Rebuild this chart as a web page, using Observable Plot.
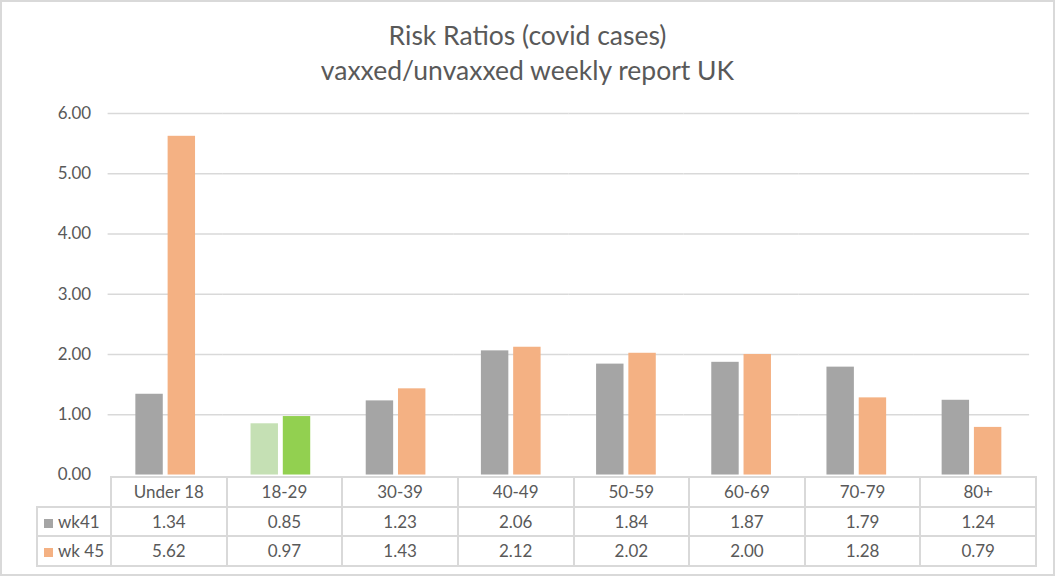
<!DOCTYPE html>
<html>
<head>
<meta charset="utf-8">
<script src="https://cdn.jsdelivr.net/npm/d3@7"></script>
<script src="https://cdn.jsdelivr.net/npm/@observablehq/plot@0.6"></script>
<style>
  html, body { margin: 0; padding: 0; background: #fff; }
  #frame { position: absolute; left: 0; top: 0; width: 1055px; height: 576px; box-sizing: border-box;
           border: 2px solid #d9d9d9; background: #fff; overflow: hidden; font-family: Lato, "Open Sans", sans-serif; color: #595959; }
  #title { position: absolute; left: -2px; top: 16px; width: 1055px; text-align: center; font-size: 26.5px; line-height: 35px; color: #595959; }
  #chart { position: absolute; left: -2px; top: 84px; }
  #tbl { position: absolute; left: 34px; top: 474px; border-collapse: collapse; table-layout: fixed; font-size: 17px; color: #595959; }
  #tbl td { border: 2px solid #d9d9d9; height: 27.5px; padding: 0; text-align: center; }
  #tbl td.blank { border-top: none; border-left: none; }
  #tbl td.leg { text-align: left; padding-left: 6px; }
  .sw { display: inline-block; width: 9px; height: 9px; margin-right: 5px; vertical-align: 0px; }
</style>
</head>
<body>
<div id="frame">
  <div id="title">Risk Ratios (covid cases)<br>vaxxed/unvaxxed weekly report UK</div>
  <div id="chart"></div>
  <table id="tbl"></table>
</div>
<script>
const categories = ["Under 18", "18-29", "30-39", "40-49", "50-59", "60-69", "70-79", "80+"];
const seriesNames = ["wk41", "wk 45"];
const wk41 = [1.34, 0.85, 1.23, 2.06, 1.84, 1.87, 1.79, 1.24];
const wk45 = [5.62, 0.97, 1.43, 2.12, 2.02, 2.00, 1.28, 0.79];
const yTicks = [0, 1, 2, 3, 4, 5, 6];
const seriesColors = ["#a5a5a5", "#f4b183"];
const highlightCategory = "18-29";
const highlightColors = ["#c5e0b4", "#92d050"];

const rows = [];
categories.forEach((c, i) => {
  rows.push({cat: c, series: seriesNames[0], value: wk41[i], si: 0});
  rows.push({cat: c, series: seriesNames[1], value: wk45[i], si: 1});
});

const chart = Plot.plot({
  width: 1057,
  height: 402,
  marginTop: 27,
  marginBottom: 12,
  marginLeft: 108,
  marginRight: 24,
  style: {fontFamily: "Lato, 'Open Sans', sans-serif", fontSize: "17px", color: "#595959", background: "transparent"},
  fx: {domain: categories, padding: 0, round: false, axis: null},
  x: {domain: seriesNames, paddingInner: 0.15, paddingOuter: 0.86, round: false, axis: null},
  y: {domain: [0, 6], ticks: yTicks, axis: null},
  color: {type: "identity"},
  marks: [
    Plot.ruleY(yTicks.slice(1), {stroke: "#d9d9d9", strokeWidth: 1.5}),
    Plot.barY(rows, {
      fx: "cat", x: "series", y: "value",
      fill: d => d.cat === highlightCategory ? highlightColors[d.si] : seriesColors[d.si]
    }),
    Plot.axisY({ticks: yTicks, tickFormat: d3.format(".2f"), tickSize: 0, tickPadding: 17, label: null,
                facetAnchor: "left", fill: "#595959"})
  ]
});
document.getElementById("chart").appendChild(chart);

// data table
const tbl = document.getElementById("tbl");
const colg = document.createElement("colgroup");
const firstW = 74;
const colW = (1033 - 108) / categories.length;
colg.innerHTML = `<col style="width:${firstW}px">` + categories.map(() => `<col style="width:${colW}px">`).join("");
tbl.appendChild(colg);
tbl.style.width = (firstW + colW * categories.length) + "px";
const head = document.createElement("tr");
head.innerHTML = `<td class="blank"></td>` + categories.map(c => `<td>${c}</td>`).join("");
tbl.appendChild(head);
[wk41, wk45].forEach((vals, si) => {
  const tr = document.createElement("tr");
  tr.innerHTML = `<td class="leg"><span class="sw" style="background:${seriesColors[si]}"></span>${seriesNames[si]}</td>` +
    vals.map(v => `<td>${d3.format(".2f")(v)}</td>`).join("");
  tbl.appendChild(tr);
});
</script>
</body>
</html>
